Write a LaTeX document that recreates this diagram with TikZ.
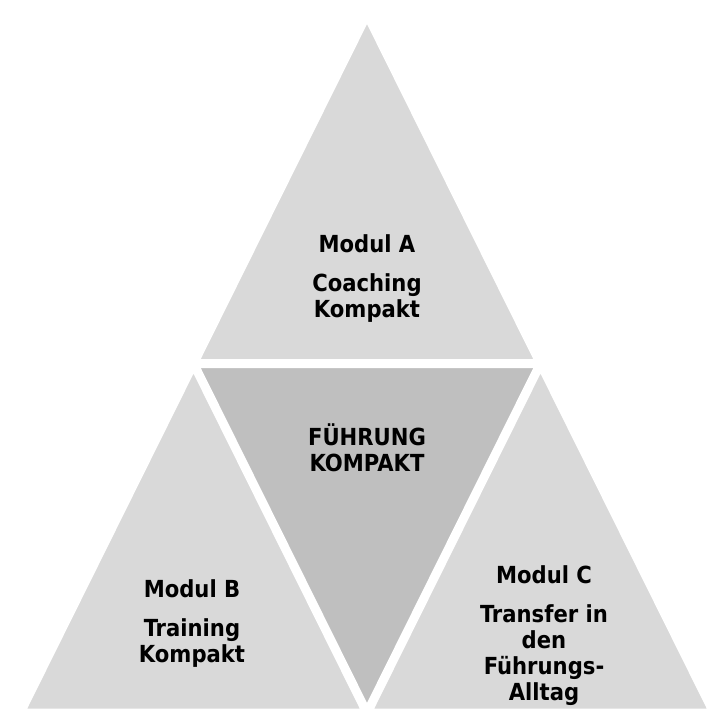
\documentclass[tikz,border=0pt]{standalone}
\usepackage{fontspec}
\newfontfamily\modfont{DejaVuSansCondensed-Bold.ttf}
\definecolor{lightpart}{HTML}{D9D9D9}
\definecolor{darkpart}{HTML}{BFBFBF}

\begin{document}
\begin{tikzpicture}[x=1pt,y=-1pt,
		part/.style={draw=white,line width=9pt,line join=round},
		modtext/.style={align=center,inner sep=0pt,anchor=base,
			font=\modfont\fontsize{23.5}{26}\selectfont}]
	\useasboundingbox (0, 0) rectangle (711, 715);

	\coordinate (top) at (367, 14);
	\coordinate (bl) at (20, 713);
	\coordinate (br) at (714, 713);
	\coordinate (ml) at (193.5, 363.5);
	\coordinate (mr) at (540.5, 363.5);
	\coordinate (mb) at (367, 713);

	\fill [lightpart] (top) -- (ml) -- (mr) -- cycle;
	\fill [lightpart] (ml) -- (bl) -- (mb) -- cycle;
	\fill [lightpart] (mr) -- (mb) -- (br) -- cycle;
	\fill [darkpart] (ml) -- (mr) -- (mb) -- cycle;

	\draw [part] (top) -- (ml) -- (mr) -- cycle;
	\draw [part] (ml) -- (bl) -- (mb) -- cycle;
	\draw [part] (mr) -- (mb) -- (br) -- cycle;

	% base anchor sits on the last line
	\node [modtext] (moda) at (367, 317) {Modul A\\[13pt]Coaching\\Kompakt};
	\node [modtext] (core) at (367, 471) {FÜHRUNG\\KOMPAKT};
	\node [modtext] (modb) at (192, 662) {Modul B\\[13pt]Training\\Kompakt};
	\node [modtext] (modc) at (544, 700) {Modul C\\[13pt]Transfer in\\den\\Führungs-\\Alltag};

\end{tikzpicture}
\end{document}
